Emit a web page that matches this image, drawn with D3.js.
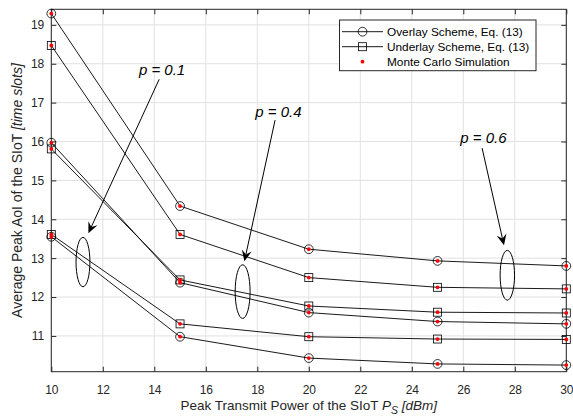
<!DOCTYPE html>
<html>
<head>
<meta charset="utf-8">
<script src="https://cdn.jsdelivr.net/npm/d3@7"></script>
<style>
  html, body { margin: 0; padding: 0; background: #fff; }
  svg { display: block; font-family: "Liberation Sans", Arial, Helvetica, sans-serif; }
</style>
</head>
<body>
<svg id="chart" width="573" height="418"></svg>
<script>
// ---- data ----
const powers = [10, 15, 20, 25, 30];
const overlayP06  = [19.29, 14.34, 13.23, 12.93, 12.80];
const underlayP06 = [18.47, 13.61, 12.50, 12.25, 12.21];
const overlayP04  = [15.97, 12.37, 11.60, 11.37, 11.31];
const underlayP04 = [15.81, 12.44, 11.77, 11.61, 11.59];
const overlayP01  = [13.55, 10.98, 10.43, 10.28, 10.25];
const underlayP01 = [13.61, 11.31, 10.98, 10.92, 10.91];
const xTicks = [10, 12, 14, 16, 18, 20, 22, 24, 26, 28, 30];
const yTicks = [11, 12, 13, 14, 15, 16, 17, 18, 19];
const legendLabels = ["Overlay Scheme, Eq. (13)", "Underlay Scheme, Eq. (13)", "Monte Carlo Simulation"];
const xLabel = "Peak Transmit Power of the SIoT ";
const yLabel = "Average Peak AoI of the SIoT ";
// annotations: label, text anchor (x,y), arrow start, arrow tip, ellipse centre, ellipse radii (data units)
const annLabels = ["0.1", "0.4", "0.6"];
const annText   = [[14.3, 17.70], [18.82, 16.63], [26.78, 15.96]];
const annStart  = [[14.19, 17.60], [18.69, 16.55], [26.73, 15.83]];
const annTip    = [[11.44, 13.64], [17.50, 12.92], [27.58, 13.33]];
const annEll    = [[11.23, 12.90], [17.43, 12.14], [27.71, 12.56]];
const annRad    = [[0.27, 0.635], [0.29, 0.69], [0.28, 0.64]];

const series = [
  {vals: overlayP06, marker: "circle"},
  {vals: underlayP06, marker: "square"},
  {vals: overlayP04, marker: "circle"},
  {vals: underlayP04, marker: "square"},
  {vals: overlayP01, marker: "circle"},
  {vals: underlayP01, marker: "square"}
];

// ---- layout ----
const svg = d3.select("#chart");
const L = 51.3, R = 566.3, T = 9.3, B = 371.7;
const x = d3.scaleLinear().domain([10, 30]).range([L, R]);
const y = d3.scaleLinear().domain([10.08, 19.4]).range([B, T]);
const axisColor = "#262626";

// grid
const g = svg.append("g");
g.selectAll("line.gx").data(xTicks).join("line")
  .attr("x1", d => x(d)).attr("x2", d => x(d)).attr("y1", T).attr("y2", B)
  .attr("stroke", "#e1e1e1").attr("stroke-width", 1);
g.selectAll("line.gy").data(yTicks).join("line")
  .attr("y1", d => y(d)).attr("y2", d => y(d)).attr("x1", L).attr("x2", R)
  .attr("stroke", "#e1e1e1").attr("stroke-width", 1);

// axes
const fs = 12;
const axB = svg.append("g").attr("transform", `translate(0,${B})`)
  .call(d3.axisBottom(x).tickValues(xTicks).tickSize(-5).tickPadding(14).tickFormat(d3.format("d")));
const axT = svg.append("g").attr("transform", `translate(0,${T})`)
  .call(d3.axisTop(x).tickValues(xTicks).tickSize(-5).tickFormat(""));
const axL = svg.append("g").attr("transform", `translate(${L},0)`)
  .call(d3.axisLeft(y).tickValues(yTicks).tickSize(-5).tickPadding(7).tickFormat(d3.format("d")));
const axR = svg.append("g").attr("transform", `translate(${R},0)`)
  .call(d3.axisRight(y).tickValues(yTicks).tickSize(-5).tickFormat(""));
[axB, axT, axL, axR].forEach(a => {
  a.select(".domain").remove();
  a.selectAll(".tick line").attr("stroke", axisColor).attr("stroke-width", 1);
  a.selectAll(".tick text").attr("fill", axisColor).style("font-size", fs + "px")
    .style("font-family", '"Liberation Sans", Arial, sans-serif');
});
svg.append("rect").attr("x", L).attr("y", T).attr("width", R - L).attr("height", B - T)
  .attr("fill", "none").attr("stroke", axisColor).attr("stroke-width", 1);

// lines
const line = d3.line().x((d, i) => x(powers[i])).y(d => y(d));
series.forEach(s => {
  svg.append("path").datum(s.vals).attr("d", line)
    .attr("fill", "none").attr("stroke", "#000").attr("stroke-width", 0.9);
});

function drawMarker(sel, type, cx, cy) {
  if (type === "circle") {
    sel.append("circle").attr("cx", cx).attr("cy", cy).attr("r", 4.4)
      .attr("fill", "none").attr("stroke", "#000").attr("stroke-width", 0.8);
  } else {
    sel.append("rect").attr("x", cx - 4).attr("y", cy - 4).attr("width", 8).attr("height", 8)
      .attr("fill", "none").attr("stroke", "#000").attr("stroke-width", 0.8);
  }
}
function drawDot(sel, cx, cy) {
  sel.append("circle").attr("cx", cx).attr("cy", cy).attr("r", 1.9).attr("fill", "#ff0000");
}
series.forEach(s => {
  const mg = svg.append("g");
  s.vals.forEach((v, i) => drawMarker(mg, s.marker, x(powers[i]), y(v)));
});
series.forEach(s => {
  const dg = svg.append("g");
  s.vals.forEach((v, i) => drawDot(dg, x(powers[i]), y(v)));
});

// annotations
annLabels.forEach((lab, k) => {
  const ag = svg.append("g");
  const sx = x(annStart[k][0]), sy = y(annStart[k][1]);
  const tx = x(annTip[k][0]), ty = y(annTip[k][1]);
  const ang = Math.atan2(ty - sy, tx - sx);
  const hl = 11, hw = 5, notch = 7;
  const ux = Math.cos(ang), uy = Math.sin(ang), px = -uy, py = ux;
  const bx = tx - ux * hl, by = ty - uy * hl;
  const nx = tx - ux * notch, ny = ty - uy * notch;
  ag.append("line").attr("x1", sx).attr("y1", sy).attr("x2", nx).attr("y2", ny)
    .attr("stroke", "#000").attr("stroke-width", 1);
  ag.append("path")
    .attr("d", `M${tx},${ty}L${bx + px * hw},${by + py * hw}L${nx},${ny}L${bx - px * hw},${by - py * hw}Z`)
    .attr("fill", "#000");
  ag.append("ellipse")
    .attr("cx", x(annEll[k][0])).attr("cy", y(annEll[k][1]))
    .attr("rx", x(annEll[k][0] + annRad[k][0]) - x(annEll[k][0]))
    .attr("ry", y(annEll[k][1]) - y(annEll[k][1] + annRad[k][1]))
    .attr("fill", "none").attr("stroke", "#000").attr("stroke-width", 1);
  const t = ag.append("text").attr("x", x(annText[k][0])).attr("y", y(annText[k][1]))
    .attr("text-anchor", "middle").style("font-size", "15px").style("font-style", "italic").attr("fill", "#000");
  t.append("tspan").text("p = " + lab);
});

// legend
const lg = svg.append("g");
lg.append("rect").attr("x", 339.5).attr("y", 20).attr("width", 196.5).attr("height", 50.7)
  .attr("fill", "#fff").attr("stroke", axisColor).attr("stroke-width", 1);
const rowsY = [31.7, 46.7, 61.7];
legendLabels.forEach((lab, i) => {
  const cy = rowsY[i];
  if (i < 2) {
    lg.append("line").attr("x1", 342).attr("x2", 383).attr("y1", cy).attr("y2", cy)
      .attr("stroke", "#000").attr("stroke-width", 0.9);
    drawMarker(lg, i === 0 ? "circle" : "square", 362.5, cy);
  } else {
    drawDot(lg, 362.5, cy);
  }
  lg.append("text").attr("x", 387).attr("y", cy + 4.2).style("font-size", "11.8px").attr("fill", "#000").text(lab);
});

// axis titles
const xt = svg.append("text").attr("x", (L + R) / 2).attr("y", 410).attr("text-anchor", "middle")
  .style("font-size", "13.5px").attr("fill", axisColor);
xt.append("tspan").text(xLabel);
xt.append("tspan").style("font-style", "italic").text("P");
xt.append("tspan").style("font-style", "italic").style("font-size", "10.5px").attr("dy", 4).text("S");
xt.append("tspan").attr("dy", -4).style("font-style", "italic").text(" [dBm]");

const yt = svg.append("text").attr("transform", `translate(22,${(T + B) / 2}) rotate(-90)`)
  .attr("text-anchor", "middle").style("font-size", "14px").attr("fill", axisColor);
yt.append("tspan").text(yLabel);
yt.append("tspan").style("font-style", "italic").text("[time slots]");
</script>
</body>
</html>
